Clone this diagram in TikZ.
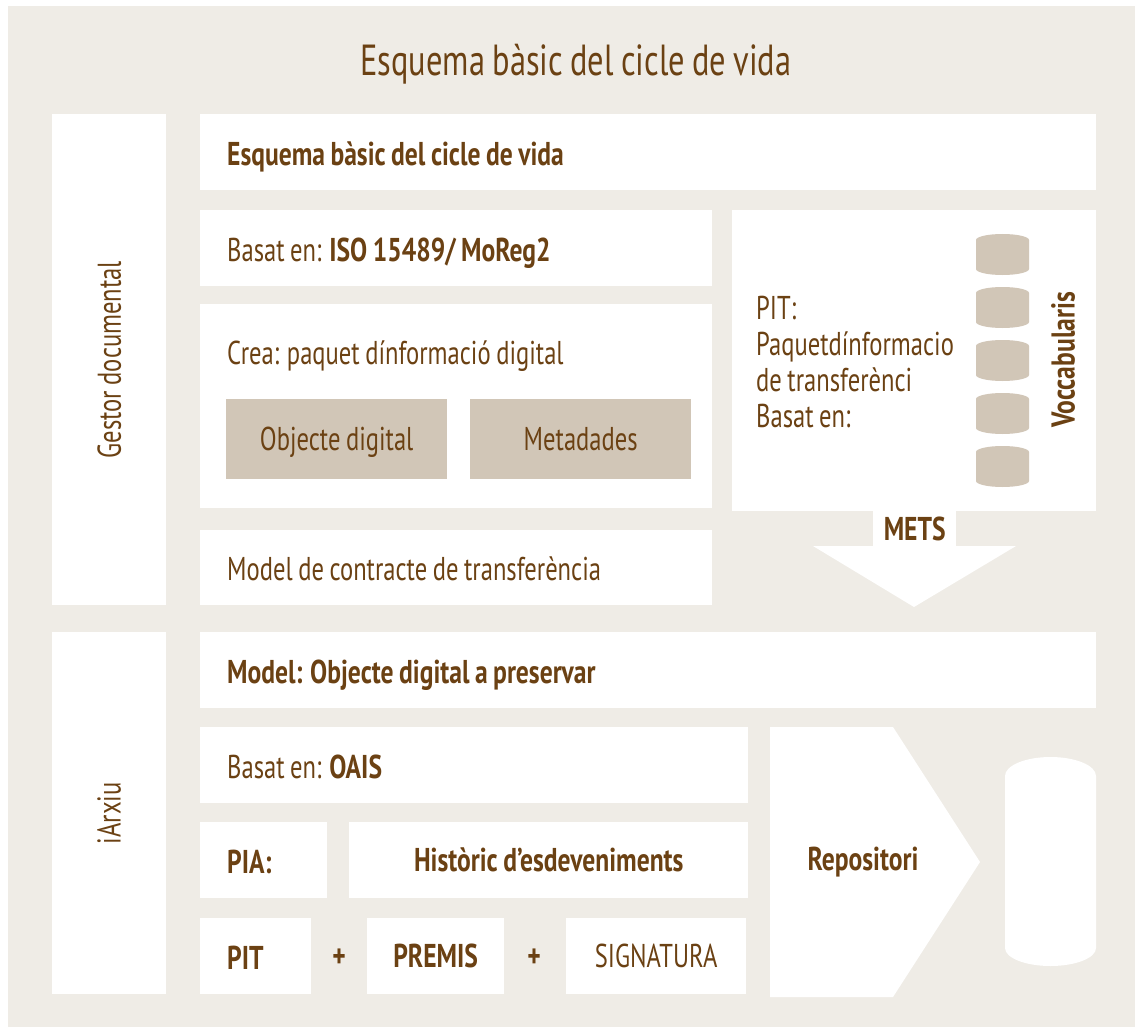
\documentclass[tikz,border=0pt]{standalone}
\usepackage{fontspec}
\setmainfont{PT Sans}[FakeStretch=0.745,WordSpace=0.85,BoldFeatures={FakeStretch=0.775}]
\definecolor{ink}{HTML}{6B4113}
\definecolor{sand}{HTML}{EFECE6}
\definecolor{clay}{HTML}{D1C6B7}
\newcommand\bodyfont{\fontsize{33}{36}\selectfont}
\newcommand\headfont{\fontsize{43.5}{48}\selectfont}

\begin{document}
\begin{tikzpicture}[x=1pt,y=-1pt,
  box/.style={fill=white,inner sep=0pt,anchor=north west,font=\bodyfont,text=ink},
  cbox/.style={box,align=center,text height=23pt,text depth=0pt},
  tanbox/.style={cbox,fill=clay},
  lbl/.style={inner sep=0pt,font=\bodyfont,text=ink},
  ltxt/.style={lbl,anchor=base west,xshift=27pt,yshift=-13pt}]
\useasboundingbox (0,0) rectangle (1135,1027);
\fill[sand] (8,6) rectangle (1135,1027);

\node [inner sep=0pt,font=\headfont,text=ink,anchor=base] (title) at (576,76) {Esquema bàsic del cicle de vida};

% gestor documental
\node [box,minimum width=114pt,minimum height=491pt] (gestor) at (52,114) {};
\node [lbl,rotate=90] (gestortxt) at (gestor.center) {Gestor documental};
\node [box,minimum width=896pt,minimum height=76pt] (esq) at (200,114) {};
\node [ltxt,font=\bodyfont\bfseries] (esqtxt) at (esq.west) {Esquema bàsic del cicle de vida};
\node [box,minimum width=512pt,minimum height=76pt] (basat) at (200,210) {};
\node [ltxt] (basattxt) at (basat.west) {Basat en: \textbf{ISO 15489/ MoReg2}};
\node [box,minimum width=512pt,minimum height=204pt] (crea) at (200,304) {};
\node [lbl,anchor=base west] (creatxt) at (227,364) {Crea: paquet dínformació digital};
\node [tanbox,minimum width=221pt,minimum height=80pt] (obj) at (226,399) {Objecte digital};
\node [tanbox,minimum width=221pt,minimum height=80pt] (meta) at (470,399) {Metadades};
\node [box,minimum width=512pt,minimum height=75pt] (contr) at (200,530) {};
\node [ltxt] (contrtxt) at (contr.west) {Model de contracte de transferència};

% PIT i vocabularis
\node [box,minimum width=364pt,minimum height=301pt] (pit) at (732,210) {};
\node [lbl,anchor=west,align=left] (pittxt) at (756,362) {PIT:\\Paquetdínformacio\\de transferènci\\Basat en:};
\foreach \i in {0,...,4}
  \fill[clay] (976,240+53*\i) arc[x radius=26.5pt,y radius=6pt,start angle=180,end angle=0]
    -- (1029,269+53*\i) arc[x radius=26.5pt,y radius=6pt,start angle=0,end angle=-180] -- cycle;
\node [lbl,rotate=90,font=\bodyfont\bfseries] (vocab) at (1063,360) {Voccabularis};
\node [cbox,minimum width=83pt,minimum height=37pt,font=\bodyfont\bfseries] (mets) at (873,510) {METS};
\fill[white] (813,546) -- (1016,546) -- (914,607) -- cycle;

% iArxiu
\node [box,minimum width=114pt,minimum height=362pt] (iarxiu) at (52,632) {};
\node [lbl,rotate=90] (iarxiutxt) at (iarxiu.center) {iArxiu};
\node [box,minimum width=896pt,minimum height=76pt] (model) at (200,632) {};
\node [ltxt,font=\bodyfont\bfseries] (modeltxt) at (model.west) {Model: Objecte digital a preservar};
\node [box,minimum width=548pt,minimum height=76pt] (oais) at (200,727) {};
\node [ltxt] (oaistxt) at (oais.west) {Basat en: \textbf{OAIS}};
\node [box,minimum width=127pt,minimum height=76pt] (pia) at (200,822) {};
\node [ltxt,font=\bodyfont\bfseries] (piatxt) at (pia.west) {PIA:};
\node [cbox,minimum width=399pt,minimum height=76pt,font=\bodyfont\bfseries] (hist) at (349,822) {Històric d’esdeveniments};
\node [box,minimum width=111pt,minimum height=76pt] (pitb) at (200,918) {};
\node [ltxt,font=\bodyfont\bfseries] (pitbtxt) at (pitb.west) {PIT};
\node [lbl,font=\bodyfont\bfseries] (plusa) at (339,958) {+};
\node [cbox,minimum width=137pt,minimum height=76pt,font=\bodyfont\bfseries] (premis) at (367,918) {PREMIS};
\node [lbl,font=\bodyfont\bfseries] (plusb) at (534,958) {+};
\node [cbox,minimum width=180pt,minimum height=76pt] (sign) at (566,918) {SIGNATURA};

% repositori
\fill[white] (770,727) -- (893,727) -- (980,862) -- (893,997) -- (770,997) -- cycle;
\node [lbl,font=\bodyfont\bfseries] (repo) at (863,862) {Repositori};
\fill[white] (1005,776) arc[x radius=45.5pt,y radius=19pt,start angle=180,end angle=0]
  -- (1096,948) arc[x radius=45.5pt,y radius=18pt,start angle=0,end angle=-180] -- cycle;
\end{tikzpicture}
\end{document}
